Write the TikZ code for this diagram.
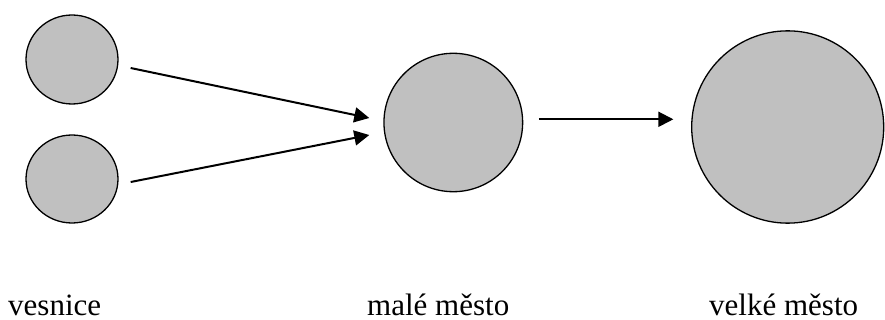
\documentclass[tikz,border=0pt]{standalone}
\usepackage{fontspec}
\setmainfont{Liberation Serif}
\usetikzlibrary{shapes.geometric,arrows.meta}
\definecolor{cityfill}{RGB}{192,192,192}
\tikzset{
  town/.style={ellipse, draw=black, fill=cityfill, line width=1.3pt, inner sep=0pt},
  flow/.style={line width=2pt, -{Triangle[length=15pt,width=15pt]}},
  lbl/.style={anchor=base west, inner sep=0pt, text depth=0pt, font=\fontsize{31}{36}\selectfont}
}
\begin{document}
\begin{tikzpicture}[x=1pt,y=-1pt]
\useasboundingbox (0,0) rectangle (885,320);
\begin{scope}
\clip (0,0) rectangle (885,320);
\node[town, minimum width=92pt, minimum height=89pt] (v1) at (72,59.5) {};
\node[town, minimum width=92pt, minimum height=88pt] (v2) at (72,179) {};
\node[town, minimum width=138.7pt, minimum height=138.4pt] (m) at (453.3,122.5) {};
\node[town, minimum width=192pt, minimum height=192.3pt] (big) at (787.7,127) {};
\end{scope}
\draw[flow] ([shift={(12,8.5)}]v1.east) -- ([shift={(-14,-4.5)}]m.west);
\draw[flow] ([shift={(12,3)}]v2.east) -- ([shift={(-14,12.5)}]m.west);
\draw[flow] ([shift={(15.6,-3.2)}]m.east) -- ([shift={(-17.7,-7.7)}]big.west);
\node[lbl] (t1) at (8,315) {vesnice};
\node[lbl] (t2) at (367,315) {malé město};
\node[lbl] (t3) at (709,315) {velké město};
\end{tikzpicture}
\end{document}
